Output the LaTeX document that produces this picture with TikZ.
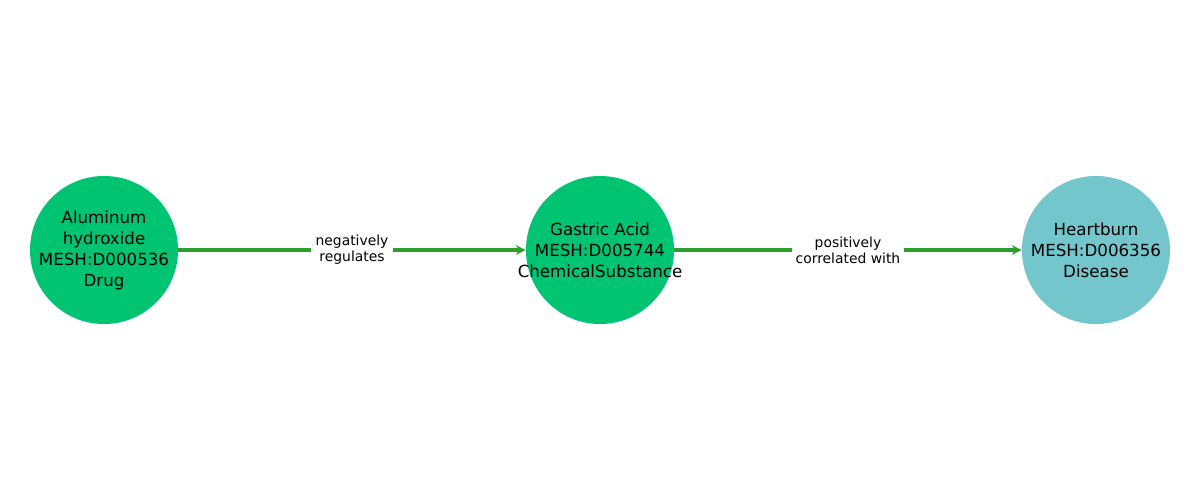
\documentclass[tikz,border=0pt]{standalone}
\usepackage{fontspec}
\setmainfont{DejaVu Sans}
\usetikzlibrary{arrows.meta}
\definecolor{nodegreen}{RGB}{0,196,114}
\definecolor{nodeteal}{RGB}{114,198,204}
\definecolor{edgegreen}{RGB}{44,160,44}
\tikzset{
  ent/.style={circle, minimum size=106.6pt, inner sep=0pt},
  enttext/.style={align=center, inner sep=0pt,
    font=\fontsize{12}{15.1}\selectfont, text=black},
  rel/.style={draw=edgegreen, line width=2.2pt, -{Stealth[length=7pt,width=7pt]}},
  rellabel/.style={fill=white, inner sep=3pt, align=center,
    font=\fontsize{10}{11.5}\selectfont, text=black}
}
\begin{document}
\begin{tikzpicture}[x=1pt,y=1pt]
\useasboundingbox (0,0) rectangle (864,360);
\node[ent, fill=nodegreen] (a) at (74.9,180) {};
\node[enttext] (at) at (a.center) {Aluminum\\hydroxide\\MESH:D000536\\Drug};
\node[ent, fill=nodegreen] (b) at (432,180) {};
\node[enttext] (bt) at (b.center) {Gastric Acid\\MESH:D005744\\ChemicalSubstance};
\node[ent, fill=nodeteal] (c) at (789.1,180) {};
\node[enttext] (ct) at (c.center) {Heartburn\\MESH:D006356\\Disease};
\draw[rel] (a) -- node[rellabel] (l1) {negatively\\regulates} (b);
\draw[rel] (b) -- node[rellabel] (l2) {positively\\correlated with} (c);
\end{tikzpicture}
\end{document}
